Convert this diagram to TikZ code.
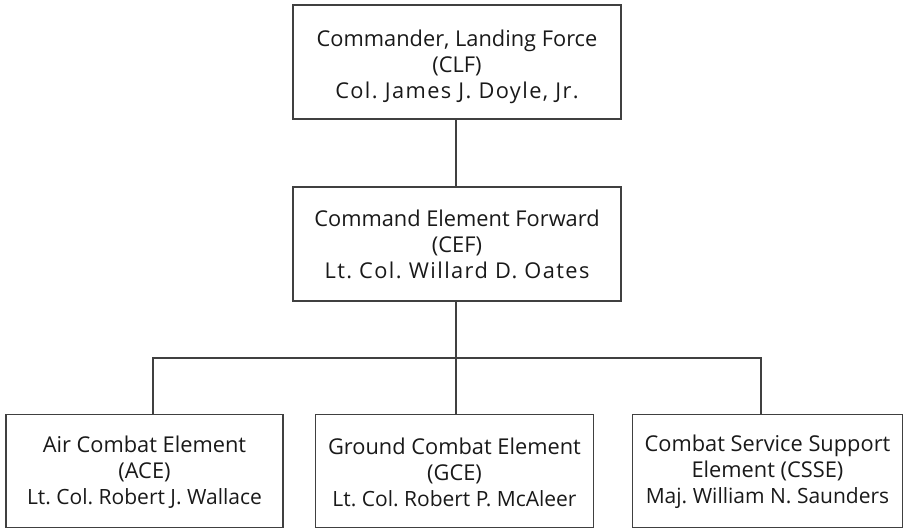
\documentclass[tikz,border=0pt]{standalone}
\usepackage{fontspec}
\setmainfont{Open Sans}
\newfontfamily\widename[LetterSpace=6.5]{Open Sans}
\frenchspacing
% title line, abbreviation line, commander's name
\newcommand{\unitbox}[3]{#1\\#2\\#3}
\newcommand{\namesize}{\fontsize{21}{26}\selectfont}
\begin{document}
\begin{tikzpicture}[x=1pt,y=-1pt,
  frame/.style={draw=black!75, line width=1.1pt, inner sep=0pt},
  caption/.style={align=center, inner sep=0pt,
    font=\fontsize{21.8}{26}\selectfont, text=black!90},
  link/.style={draw=black!75, line width=1.1pt}]
  \useasboundingbox (0,0) rectangle (904,530);
  % command boxes
  \node[frame, minimum width=328pt, minimum height=114pt] (clf) at (457,62) {};
  \node[caption] (clftext) at ([yshift=-5pt]clf.center)
    {\unitbox{Commander, Landing Force}{(CLF)}{\widename Col. James J. Doyle, Jr.}};
  \node[frame, minimum width=328pt, minimum height=114pt] (cef) at (457,244) {};
  \node[caption] (ceftext) at (cef.center)
    {\unitbox{Command Element Forward}{(CEF)}{\widename Lt. Col. Willard D. Oates}};
  % subordinate elements
  \node[frame, minimum width=277pt, minimum height=113pt] (ace) at (144.5,471) {};
  \node[caption] (acetext) at ([yshift=-1pt]ace.center)
    {\unitbox{Air Combat Element}{(ACE)}{\namesize Lt. Col. Robert J. Wallace}};
  \node[frame, minimum width=278pt, minimum height=113pt] (gce) at (454.5,471) {};
  \node[caption] (gcetext) at ([yshift=-1pt]gce.center)
    {\unitbox{Ground Combat Element}{(GCE)}{\namesize Lt. Col. Robert P. McAleer}};
  \node[frame, minimum width=270pt, minimum height=113pt] (csse) at (767.5,471) {};
  \node[caption] (cssetext) at ([yshift=-1pt]csse.center)
    {\unitbox{Combat Service Support}{Element (CSSE)}{\namesize Maj. William N. Saunders}};
  % connectors
  \coordinate (bus) at (456,358);
  \draw[link] (456,0 |- clf.south) -- (456,0 |- cef.north);
  \draw[link] (456,0 |- cef.south) -- (bus);
  \draw[link] (153,0 |- ace.north) |- (bus) -| (761,0 |- csse.north);
  \draw[link] (bus) -- (456,0 |- gce.north);
\end{tikzpicture}
\end{document}
